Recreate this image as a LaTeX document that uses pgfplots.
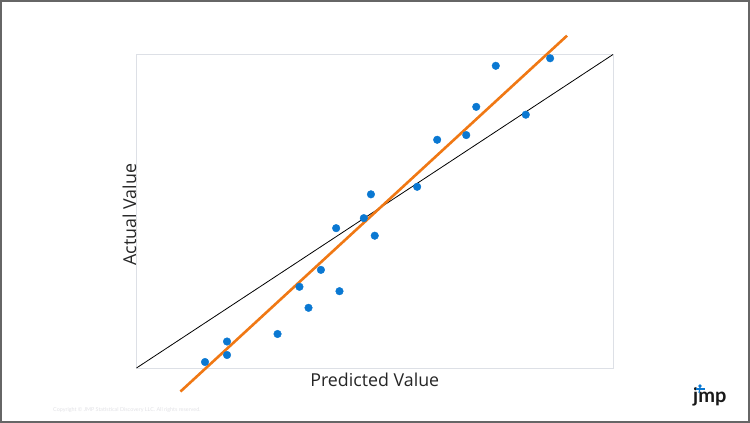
\documentclass[border=0pt]{standalone}
\usepackage{fontspec}
\setmainfont{Open Sans}
\newfontfamily\latofont{Lato}
\usepackage{pgfplots}
\pgfplotsset{compat=1.18}
\definecolor{boxgray}{HTML}{DDE0E6}
\definecolor{framegray}{HTML}{666666}
\definecolor{dotblue}{HTML}{0A78D2}
\definecolor{fitorange}{HTML}{F07814}
\definecolor{copygray}{HTML}{E2E2E6}
\begin{document}
\begin{tikzpicture}
\useasboundingbox (0pt,0pt) rectangle (750pt,423pt);
\fill[white] (0pt,0pt) rectangle (750pt,423pt);
\draw[framegray, line width=2pt] (1pt,1pt) rectangle (749pt,422pt);
\begin{axis}[
  at={(136.5pt,55pt)}, anchor=south west,
  scale only axis, width=476.5pt, height=313.5pt,
  xmin=0, xmax=100, ymin=0, ymax=100,
  xtick=\empty, ytick=\empty,
  axis line style={draw=boxgray, line width=0.9pt},
  clip=false,
  xlabel={Predicted Value},
  ylabel={Actual Value},
  label style={font=\fontsize{17.8}{19}\selectfont, text=black!85},
  xlabel style={at={(axis description cs:0.5,0)}, anchor=north, inner sep=0pt, yshift=-4.5pt},
  ylabel style={at={(axis description cs:0,0.5)}, anchor=south, inner sep=0pt, xshift=-3.5pt},
]
\addplot[black, line width=0.8pt] coordinates {(0,0) (100,100)};
\addplot[fitorange, line width=2.6pt] coordinates {(9.23,-7.5) (90.35,106.0)};
\addplot[only marks, mark=*, mark size=3.8pt, mark options={fill=dotblue, draw=dotblue}] coordinates {
(14.38,1.91)
(19.0,8.45)
(19.0,4.15)
(29.6,10.85)
(34.2,25.9)
(36.1,19.2)
(38.7,31.3)
(42.6,24.5)
(41.9,44.6)
(47.7,47.8)
(49.2,55.4)
(50.0,42.2)
(58.9,57.8)
(63.1,72.8)
(69.2,74.3)
(71.3,83.3)
(75.4,96.4)
(81.7,80.8)
(86.8,98.8)
};
\end{axis}
\node[anchor=west, inner sep=0pt, text=copygray, font=\latofont\fontsize{5.4}{6}\selectfont] at (53pt,13pt) {Copyright \textcopyright\ JMP Statistical Discovery LLC. All rights reserved.};
\node[anchor=base west, inner sep=0pt, font=\latofont\bfseries\fontsize{20}{20}\selectfont, text=black!90] at (693pt,20pt) {jmp};
\fill[dotblue] (700pt,37pt) circle (1.8pt);
\draw[dotblue, line width=1.2pt] (695.5pt,34pt) -- (705pt,34pt);
\draw[dotblue, line width=1.2pt] (700pt,36pt) -- (699pt,30pt);
\end{tikzpicture}
\end{document}
